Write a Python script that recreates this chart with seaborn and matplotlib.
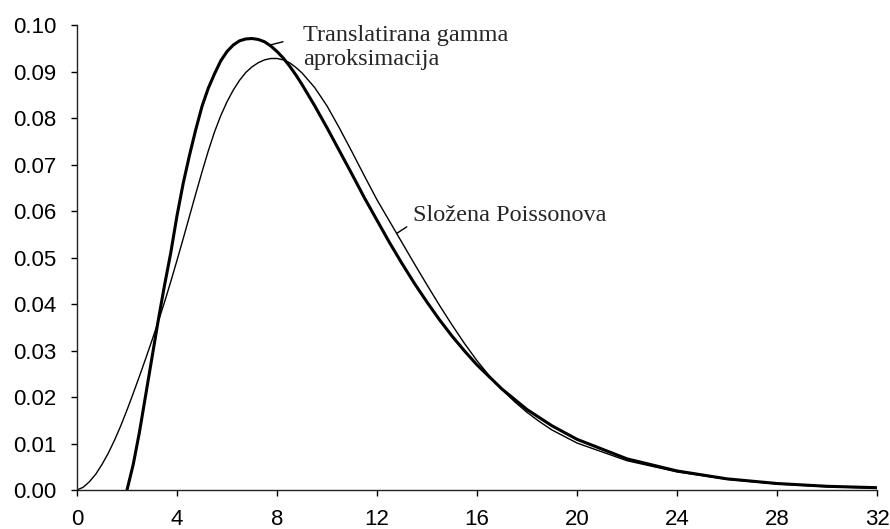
import numpy as np
import matplotlib
matplotlib.use("Agg")
import matplotlib.pyplot as plt
import pandas as pd
import seaborn as sns

# Translatirana gamma aproksimacija (deblja linija), ocitano sa slike
x_gamma = [2.0, 2.25, 2.5, 2.75, 3.0, 3.25, 3.5, 3.75, 4.0, 4.25, 4.5, 4.75,
           5.0, 5.25, 5.5, 5.75, 6.0, 6.25, 6.5, 6.75, 7.0, 7.25, 7.5, 7.75,
           8.0, 8.25, 8.5, 8.75, 9.0, 9.5, 10, 10.5, 11, 11.5, 12, 12.5, 13,
           13.5, 14, 14.5, 15, 15.5, 16, 17, 18, 19, 20, 22, 24, 26, 28, 30, 32]
y_gamma = [0.0, 0.0055, 0.0125, 0.0205, 0.0285, 0.0365, 0.044, 0.051, 0.059,
           0.066, 0.072, 0.0775, 0.0825, 0.0864, 0.0895, 0.0923, 0.0943,
           0.0957, 0.0966, 0.0970, 0.0971, 0.0969, 0.0964, 0.0955, 0.0943,
           0.0929, 0.0912, 0.0893, 0.0872, 0.0827, 0.0779, 0.0729, 0.0679,
           0.0628, 0.0580, 0.0532, 0.0487, 0.0444, 0.0404, 0.0366, 0.0331,
           0.0299, 0.0269, 0.0217, 0.0173, 0.0138, 0.0109, 0.0067, 0.0041,
           0.0024, 0.0014, 0.0008, 0.0005]

# Slozena Poissonova (tanja linija)
x_pois = [0.0, 0.25, 0.5, 0.75, 1.0, 1.25, 1.5, 1.75, 2.0, 2.25, 2.5, 2.75,
          3.0, 3.25, 3.5, 3.75, 4.0, 4.25, 4.5, 4.75, 5.0, 5.25, 5.5, 5.75,
          6.0, 6.25, 6.5, 6.75, 7.0, 7.25, 7.5, 7.75, 8.0, 8.25, 8.5, 8.75,
          9.0, 9.5, 10, 10.5, 11, 11.5, 12, 12.5, 13, 13.5, 14, 14.5, 15,
          15.5, 16, 16.5, 17, 17.5, 18, 18.5, 19, 20, 22, 24, 26, 28, 30, 32]
y_pois = [0.0, 0.0006, 0.0018, 0.0034, 0.0055, 0.0079, 0.0107, 0.0138,
          0.0172, 0.0208, 0.0245, 0.0283, 0.0322, 0.0362, 0.0404, 0.0448,
          0.0494, 0.0541, 0.0589, 0.0637, 0.0684, 0.0729, 0.0770, 0.0805,
          0.0835, 0.0860, 0.0881, 0.0898, 0.0910, 0.0919, 0.0925, 0.0928,
          0.0928, 0.0925, 0.0919, 0.0909, 0.0897, 0.0866, 0.0826, 0.0778,
          0.0727, 0.0675, 0.0624, 0.0578, 0.0532, 0.0486, 0.0441, 0.0397,
          0.0355, 0.0315, 0.0278, 0.0245, 0.0216, 0.0190, 0.0167, 0.0147,
          0.0129, 0.0101, 0.0063, 0.0039, 0.0023, 0.0013, 0.0007, 0.0004]

x_ticks = [0, 4, 8, 12, 16, 20, 24, 28, 32]
y_ticks = [0.00, 0.01, 0.02, 0.03, 0.04, 0.05, 0.06, 0.07, 0.08, 0.09, 0.10]

sns.set_style("ticks")
plt.rcParams['font.family'] = ['Liberation Sans', 'DejaVu Sans']

fig = plt.figure(figsize=(8.9, 5.29), dpi=100)
ax = fig.add_axes([0.0865, 0.0737, 0.899, 0.879])

sns.lineplot(x=x_pois, y=y_pois, ax=ax, color="black", linewidth=1.0,
             solid_joinstyle="round")
sns.lineplot(x=x_gamma, y=y_gamma, ax=ax, color="black", linewidth=2.2,
             solid_joinstyle="round")

ax.set_xlim(0, 32)
ax.set_ylim(0, 0.10)
ax.set_xticks(x_ticks)
ax.set_yticks(y_ticks)
ax.set_xticklabels([str(t) for t in x_ticks])
ax.set_yticklabels(["%.2f" % t for t in y_ticks])
ax.tick_params(axis="both", labelsize=16, length=4, width=1, colors="black")
ax.tick_params(axis="y", pad=11)
ax.tick_params(axis="x", pad=10)
sns.despine(ax=ax)
for s in ["left", "bottom"]:
    ax.spines[s].set_linewidth(1.0)
    ax.spines[s].set_color("#222222")

# oznake krivulja
serif = ['Liberation Serif', 'DejaVu Serif']
ax.text(9.04, 0.0952, "Translatirana gamma\naproksimacija", fontsize=17.5,
        family=serif, va="center", ha="left", linespacing=1.15)
ax.annotate("", xy=(7.72, 0.0957), xytext=(8.24, 0.0964),
            arrowprops=dict(arrowstyle="-", color="black", lw=1.0,
                            shrinkA=0, shrinkB=0))
ax.text(13.44, 0.0591, "Složena Poissonova", fontsize=17.5,
        family=serif, va="center", ha="left")
ax.annotate("", xy=(12.79, 0.0552), xytext=(13.19, 0.0566),
            arrowprops=dict(arrowstyle="-", color="black", lw=1.0,
                            shrinkA=0, shrinkB=0))

plt.savefig("out.png", dpi=100)
